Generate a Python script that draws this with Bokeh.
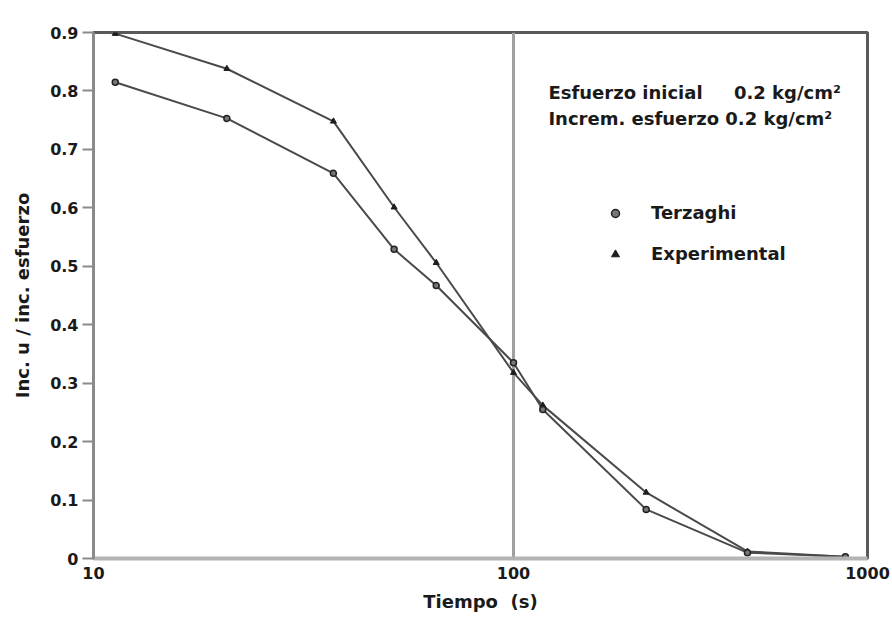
from bokeh.plotting import figure
from bokeh.models import FixedTicker, Legend, LegendItem, Label
from bokeh.embed import file_html
from bokeh.resources import INLINE

# ---- data ----
tiempo = [7.5, 15.5, 31, 46, 60.5, 100, 121, 237, 458, 866]
experimental = [0.898, 0.838, 0.748, 0.601, 0.506, 0.318, 0.262, 0.113, 0.012, 0.003]
terzaghi = [0.815, 0.753, 0.659, 0.529, 0.467, 0.335, 0.255, 0.084, 0.010, 0.003]

x_start, x_end = 6.51, 1000
x_ticks = [6.51, 100, 1000]
x_tick_labels = ["10", "100", "1000"]
y_ticks = [0, 0.1, 0.2, 0.3, 0.4, 0.5, 0.6, 0.7, 0.8, 0.9]
y_tick_labels = ["0", "0.1", "0.2", "0.3", "0.4", "0.5", "0.6", "0.7", "0.8", "0.9"]

FONT = "DejaVu Sans"

p = figure(width=892, height=624, x_axis_type="log",
           x_range=(x_start, x_end), y_range=(0, 0.9),
           output_backend="svg", toolbar_location=None,
           min_border_left=93, min_border_right=25,
           min_border_top=32, min_border_bottom=66,
           background_fill_color="white", border_fill_color="white")

p.outline_line_color = "#5a5a5a"
p.outline_line_width = 3

# grids: only the vertical line at 100
p.ygrid.visible = False
p.xgrid.ticker = FixedTicker(ticks=[100])
p.xgrid.grid_line_color = "#a0a0a0"
p.xgrid.grid_line_width = 3

# axes
p.xaxis.ticker = FixedTicker(ticks=x_ticks)
p.xaxis.major_label_overrides = dict(zip(x_ticks, x_tick_labels))
p.xaxis.axis_line_color = "#b4b4b4"
p.xaxis.axis_line_width = 4
p.xaxis.major_tick_out = 0
p.xaxis.major_tick_in = 0
p.xaxis.minor_tick_out = 0
p.xaxis.minor_tick_in = 0
p.xaxis.major_label_standoff = 8
p.xaxis.axis_label = "Tiempo\u00a0\u00a0(s)"
p.xaxis.axis_label_standoff = 9

p.yaxis.ticker = FixedTicker(ticks=y_ticks)
p.yaxis.major_label_overrides = dict(zip(y_ticks, y_tick_labels))
p.yaxis.axis_line_color = "#8a8a8a"
p.yaxis.axis_line_width = 3
p.yaxis.major_tick_out = 11
p.yaxis.major_tick_in = 0
p.yaxis.minor_tick_out = 0
p.yaxis.minor_tick_in = 0
p.yaxis.major_tick_line_color = "#8a8a8a"
p.yaxis.major_tick_line_width = 2
p.yaxis.major_label_standoff = 4
p.yaxis.axis_label = "Inc. u / inc. esfuerzo"
p.yaxis.axis_label_standoff = 14

for ax in (p.xaxis[0], p.yaxis[0]):
    ax.major_label_text_font = FONT
    ax.major_label_text_font_style = "bold"
    ax.major_label_text_font_size = "16px"
    ax.major_label_text_color = "#1a1a1a"
    ax.axis_label_text_font = FONT
    ax.axis_label_text_font_style = "bold"
    ax.axis_label_text_font_size = "18px"
    ax.axis_label_text_color = "#1a1a1a"

# series
p.line(tiempo, experimental, line_color="#4a4a4a", line_width=2)
p.line(tiempo, terzaghi, line_color="#4a4a4a", line_width=2)
r_exp = p.scatter(tiempo, experimental, marker="triangle", size=6,
                  fill_color="#1e1e1e", line_color="#1e1e1e")
r_ter = p.scatter(tiempo, terzaghi, marker="circle", size=6,
                  fill_color="#777777", line_color="#222222", line_width=1.5)

legend = Legend(items=[LegendItem(label="Terzaghi", renderers=[r_ter]),
                       LegendItem(label="Experimental", renderers=[r_exp])],
                location=(512, 294), orientation="vertical",
                border_line_color=None, background_fill_alpha=0,
                padding=0, margin=0, spacing=20,
                label_height=20, glyph_height=20, glyph_width=20,
                label_standoff=26,
                label_text_font=FONT, label_text_font_style="bold",
                label_text_font_size="18px", label_text_color="#1a1a1a")
p.add_layout(legend)

# annotation text
for txt, yv in (("Esfuerzo inicial\u00a0\u00a0\u00a0\u00a0 0.2 kg/cm\u00b2", 0.797),
                ("Increm. esfuerzo 0.2 kg/cm\u00b2", 0.753)):
    p.add_layout(Label(x=125.5, y=yv, text=txt, text_baseline="middle",
                       text_font=FONT, text_font_style="bold",
                       text_font_size="18px", text_color="#1a1a1a"))

open("out.html", "w").write(file_html(p, INLINE))
